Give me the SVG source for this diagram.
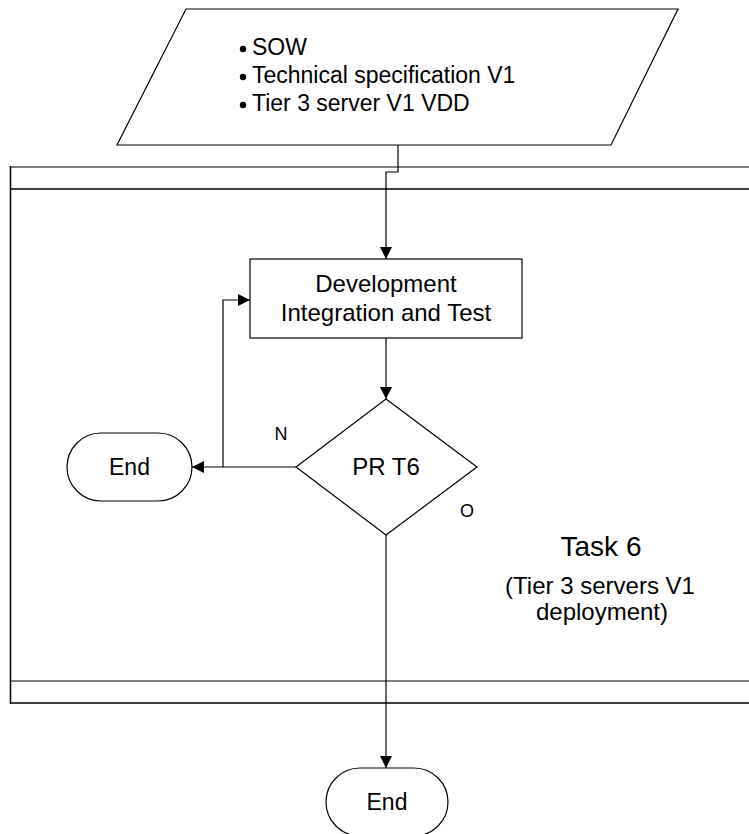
<svg xmlns="http://www.w3.org/2000/svg" width="749" height="834" viewBox="0 0 749 834">
<style>
  .shape { fill: #ffffff; stroke: #000000; stroke-width: 1.2; }
  .txt { font-family: "Liberation Sans", Arial, sans-serif; fill: #000000; }
  .conn { fill: none; stroke: #000000; stroke-width: 1.2; }
  .lane-gray { stroke: #7f7f7f; stroke-width: 2; fill: none; }
  .lane-black { stroke: #000000; stroke-width: 1.5; fill: none; }
</style>
<defs>
  <marker id="arrow" markerUnits="userSpaceOnUse" markerWidth="13" markerHeight="12" refX="12" refY="6" orient="auto">
    <path d="M0,0 L12,6 L0,12 Z" fill="#000000"/>
  </marker>
</defs>
<rect width="749" height="834" fill="#ffffff"/>

<g id="lane">
  <line class="lane-gray" x1="10" y1="167" x2="749" y2="167"/>
  <line class="lane-black" x1="10" y1="189" x2="749" y2="189"/>
  <line class="lane-gray" x1="10" y1="681" x2="749" y2="681"/>
  <line class="lane-black" x1="10" y1="703" x2="749" y2="703"/>
  <line class="lane-black" x1="10.5" y1="166" x2="10.5" y2="704"/>
  <text class="txt" x="601" y="556" font-size="28" text-anchor="middle">Task 6</text>
  <text class="txt" x="600" y="594" font-size="24" text-anchor="middle">(Tier 3 servers V1</text>
  <text class="txt" x="602" y="620" font-size="24" text-anchor="middle">deployment)</text>
</g>

<g id="inputs">
  <polygon class="shape" points="186,9 678,9 611,145 117,145"/>
  <circle cx="243" cy="49" r="3.2" fill="#000"/>
  <circle cx="243" cy="77" r="3.2" fill="#000"/>
  <circle cx="243" cy="105" r="3.2" fill="#000"/>
  <text class="txt" x="252" y="55" font-size="23">SOW</text>
  <text class="txt" x="252" y="83" font-size="23">Technical specification V1</text>
  <text class="txt" x="252" y="111" font-size="23">Tier 3 server V1 VDD</text>
</g>

<g id="dev">
  <rect class="shape" x="250" y="259" width="272" height="79"/>
  <text class="txt" x="386" y="292" font-size="24" text-anchor="middle">Development</text>
  <text class="txt" x="386" y="321" font-size="24" text-anchor="middle">Integration and Test</text>
</g>

<g id="decision">
  <polygon class="shape" points="386,399 477,467 386,535 296,467"/>
  <text class="txt" x="386" y="475" font-size="24" text-anchor="middle">PR T6</text>
</g>

<g id="end-left">
  <rect class="shape" x="67" y="433" width="125" height="68" rx="34" ry="34"/>
  <text class="txt" x="129.5" y="475" font-size="23" text-anchor="middle">End</text>
</g>

<g id="end-bottom">
  <rect class="shape" x="326" y="768" width="122" height="68" rx="34" ry="34"/>
  <text class="txt" x="387" y="810" font-size="23" text-anchor="middle">End</text>
</g>

<g id="connectors">
  <polyline class="conn" points="398,145 398,172 386,172 386,259" marker-end="url(#arrow)"/>
  <line class="conn" x1="386" y1="338" x2="386" y2="399" marker-end="url(#arrow)"/>
  <line class="conn" x1="296" y1="467" x2="192" y2="467" marker-end="url(#arrow)"/>
  <polyline class="conn" points="223,467 223,300 250,300" marker-end="url(#arrow)"/>
  <line class="conn" x1="386" y1="535" x2="386" y2="768" marker-end="url(#arrow)"/>
  <text class="txt" x="281" y="440" font-size="18" text-anchor="middle">N</text>
  <text class="txt" x="467" y="517" font-size="18" text-anchor="middle">O</text>
</g>
</svg>
